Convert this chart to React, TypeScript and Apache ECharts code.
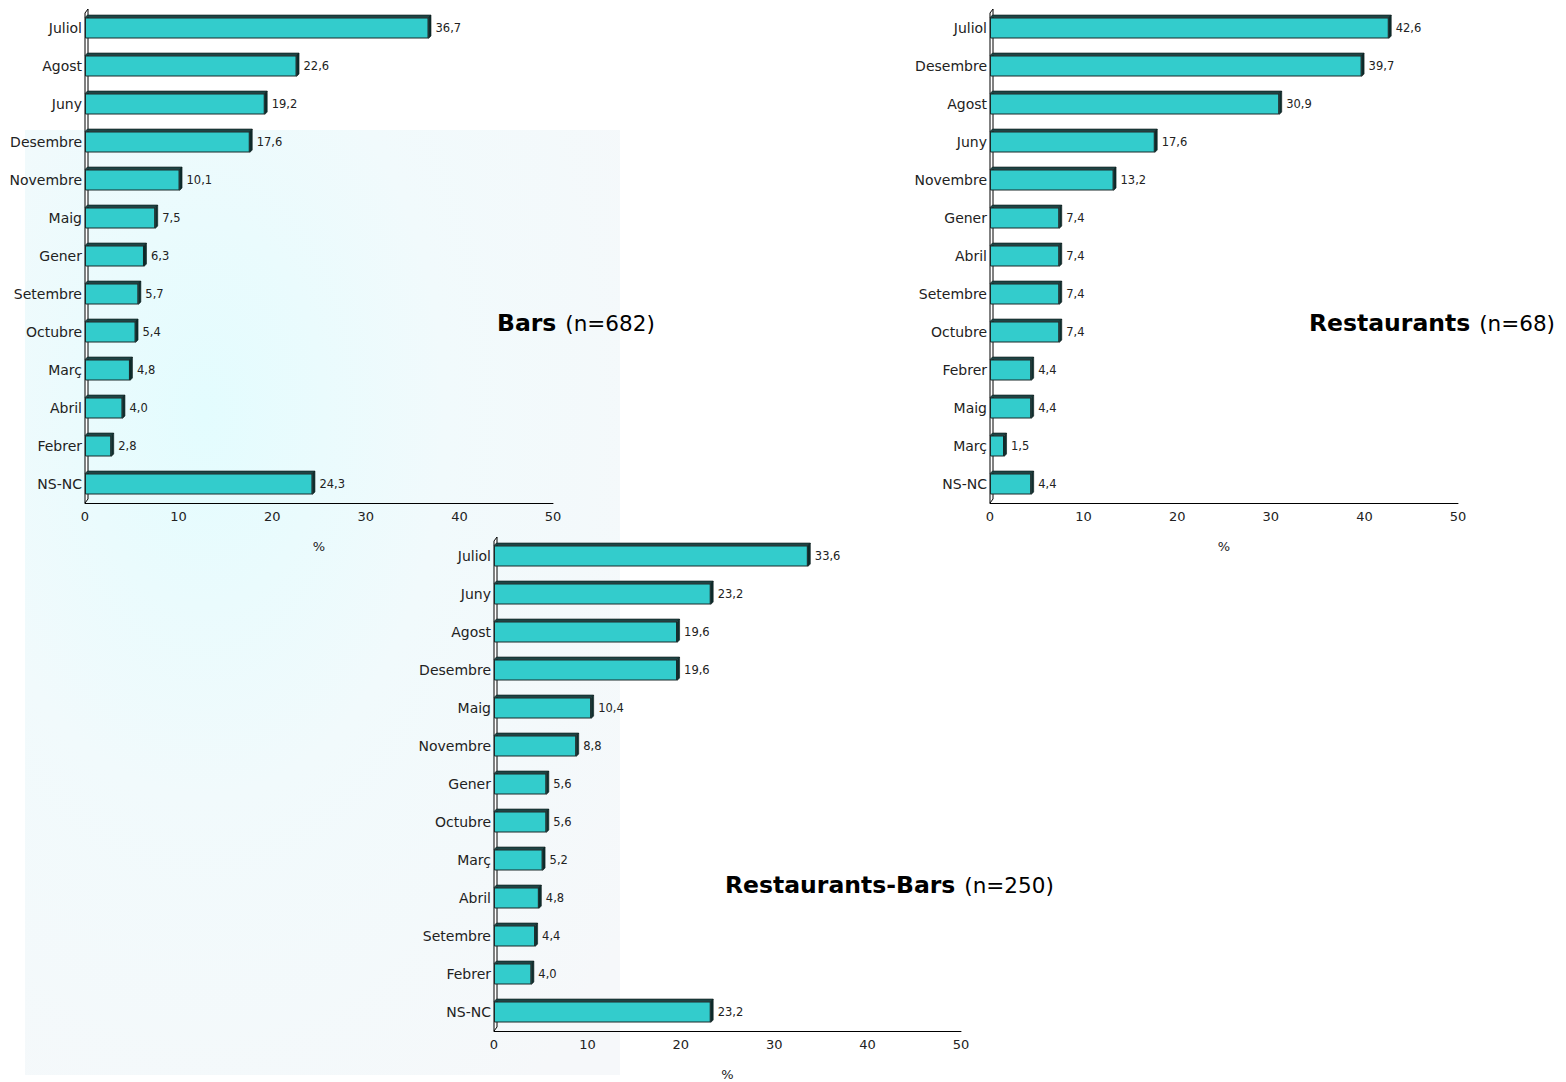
import React, { useEffect, useRef } from "react";
import * as echarts from "echarts";

const barsCats = ["Juliol", "Agost", "Juny", "Desembre", "Novembre", "Maig", "Gener", "Setembre", "Octubre", "Març", "Abril", "Febrer", "NS-NC"];
const barsVals = [36.7, 22.6, 19.2, 17.6, 10.1, 7.5, 6.3, 5.7, 5.4, 4.8, 4.0, 2.8, 24.3];

const restCats = ["Juliol", "Desembre", "Agost", "Juny", "Novembre", "Gener", "Abril", "Setembre", "Octubre", "Febrer", "Maig", "Març", "NS-NC"];
const restVals = [42.6, 39.7, 30.9, 17.6, 13.2, 7.4, 7.4, 7.4, 7.4, 4.4, 4.4, 1.5, 4.4];

const rbCats = ["Juliol", "Juny", "Agost", "Desembre", "Maig", "Novembre", "Gener", "Octubre", "Març", "Abril", "Setembre", "Febrer", "NS-NC"];
const rbVals = [33.6, 23.2, 19.6, 19.6, 10.4, 8.8, 5.6, 5.6, 5.2, 4.8, 4.4, 4.0, 23.2];

const xTicks = [0, 10, 20, 30, 40, 50];

const panels = [
  { cats: barsCats, vals: barsVals, title: "Bars", n: "(n=682)", grid: { left: 85, top: 9, width: 468, height: 494 }, tx: 497, ty: 323, align: "left" },
  { cats: restCats, vals: restVals, title: "Restaurants", n: "(n=68)", grid: { left: 990, top: 9, width: 468, height: 494 }, tx: 1555, ty: 323, align: "right" },
  { cats: rbCats, vals: rbVals, title: "Restaurants-Bars", n: "(n=250)", grid: { left: 494, top: 537, width: 467, height: 494 }, tx: 725, ty: 885, align: "left" },
];

const BAR_H = 21;
const DEPTH = 2.5;
const FONT = "DejaVu Sans";

export default function App() {
  const ref = useRef<HTMLDivElement>(null);
  useEffect(() => {
    if (!ref.current) return;
    const chart = echarts.init(ref.current, undefined, { renderer: "svg" });
    const grids: any[] = [];
    const xAxes: any[] = [];
    const yAxes: any[] = [];
    const series: any[] = [];
    const graphics: any[] = [
      {
        type: "rect",
        silent: true,
        z: -10,
        shape: { x: 25, y: 130, width: 595, height: 945 },
        style: {
          fill: new echarts.graphic.RadialGradient(0.3, 0.3, 0.9, [
            { offset: 0, color: "#e3fcfe" },
            { offset: 0.45, color: "#f1fafc" },
            { offset: 1, color: "#f6f8fa" },
          ]),
        },
      },
    ];
    panels.forEach((p, i) => {
      grids.push({ ...p.grid, containLabel: false });
      xAxes.push({
        type: "value",
        gridIndex: i,
        min: 0,
        max: 50,
        interval: 10,
        axisLine: { show: true, lineStyle: { color: "#000", width: 1 } },
        axisTick: { show: false },
        splitLine: { show: false },
        axisLabel: { fontSize: 13, color: "#222", margin: 7, fontFamily: FONT, formatter: (v: number) => (xTicks.includes(v) ? String(v) : "") },
        name: "%",
        nameLocation: "middle",
        nameGap: 37,
        nameTextStyle: { fontSize: 13, color: "#222", fontFamily: FONT },
      });
      yAxes.push({
        type: "category",
        gridIndex: i,
        data: p.cats,
        inverse: true,
        axisLine: { show: false },
        axisTick: { show: false },
        axisLabel: { fontSize: 14, color: "#222", margin: 3, fontFamily: FONT },
      });
      series.push({
        type: "bar",
        xAxisIndex: i,
        yAxisIndex: i,
        data: p.vals,
        barWidth: BAR_H,
        z: 3,
        itemStyle: { color: "#33CCCC", borderColor: "#1a2a2a", borderWidth: 1 },
        label: {
          show: true,
          position: "right",
          distance: 7,
          fontSize: 11.5,
          color: "#222",
          fontFamily: FONT,
          formatter: (q: any) => q.value.toFixed(1).replace(".", ","),
        },
      });
      series.push({
        type: "custom",
        xAxisIndex: i,
        yAxisIndex: i,
        z: 4,
        data: p.vals.map((v, k) => [v, k]),
        encode: { x: 0, y: 1 },
        renderItem: (_params: any, api: any) => {
          const v = api.value(0);
          const c = api.value(1);
          const p0 = api.coord([0, c]);
          const p1 = api.coord([v, c]);
          const y0 = p1[1] - BAR_H / 2;
          const y1 = p1[1] + BAR_H / 2;
          const d = DEPTH;
          return {
            type: "group",
            children: [
              {
                type: "polygon",
                shape: { points: [[p0[0], y0], [p1[0], y0], [p1[0] + d, y0 - d], [p0[0] + d, y0 - d]] },
                style: { fill: "#1d4545", stroke: "#0a1a1a", lineWidth: 0.6 },
              },
              {
                type: "polygon",
                shape: { points: [[p1[0], y0], [p1[0] + d, y0 - d], [p1[0] + d, y1 - d], [p1[0], y1]] },
                style: { fill: "#0e2e2e", stroke: "#0a1a1a", lineWidth: 0.6 },
              },
            ],
          };
        },
      });
      const g = p.grid;
      const x0 = g.left;
      const top = g.top;
      const bottom = g.top + g.height;
      graphics.push({
        type: "polygon",
        silent: true,
        z: 1,
        shape: { points: [[x0, bottom], [x0, top + 4], [x0 + 3, top], [x0 + 3, bottom - 4]] },
        style: { fill: "#fff", stroke: "#000", lineWidth: 1 },
      });
      graphics.push({
        type: "text",
        silent: true,
        z: 5,
        x: p.tx,
        y: p.ty,
        style: {
          text: `{b|${p.title}}{n|${p.n}}`,
          align: p.align,
          verticalAlign: "middle",
          fontFamily: FONT,
          rich: {
            b: { fontSize: 23.5, fontWeight: "bold", fill: "#000", fontFamily: FONT },
            n: { fontSize: 21.5, fill: "#000", fontFamily: FONT, padding: [0, 0, 0, 9] },
          },
        },
      });
    });
    chart.setOption({
      animation: false,
      backgroundColor: "#fff",
      textStyle: { fontFamily: FONT },
      grid: grids,
      xAxis: xAxes,
      yAxis: yAxes,
      series,
      graphic: { elements: graphics },
    });
    return () => chart.dispose();
  }, []);
  return <div ref={ref} style={{ position: "absolute", left: 0, top: 0, width: 1566, height: 1082 }} />;
}
